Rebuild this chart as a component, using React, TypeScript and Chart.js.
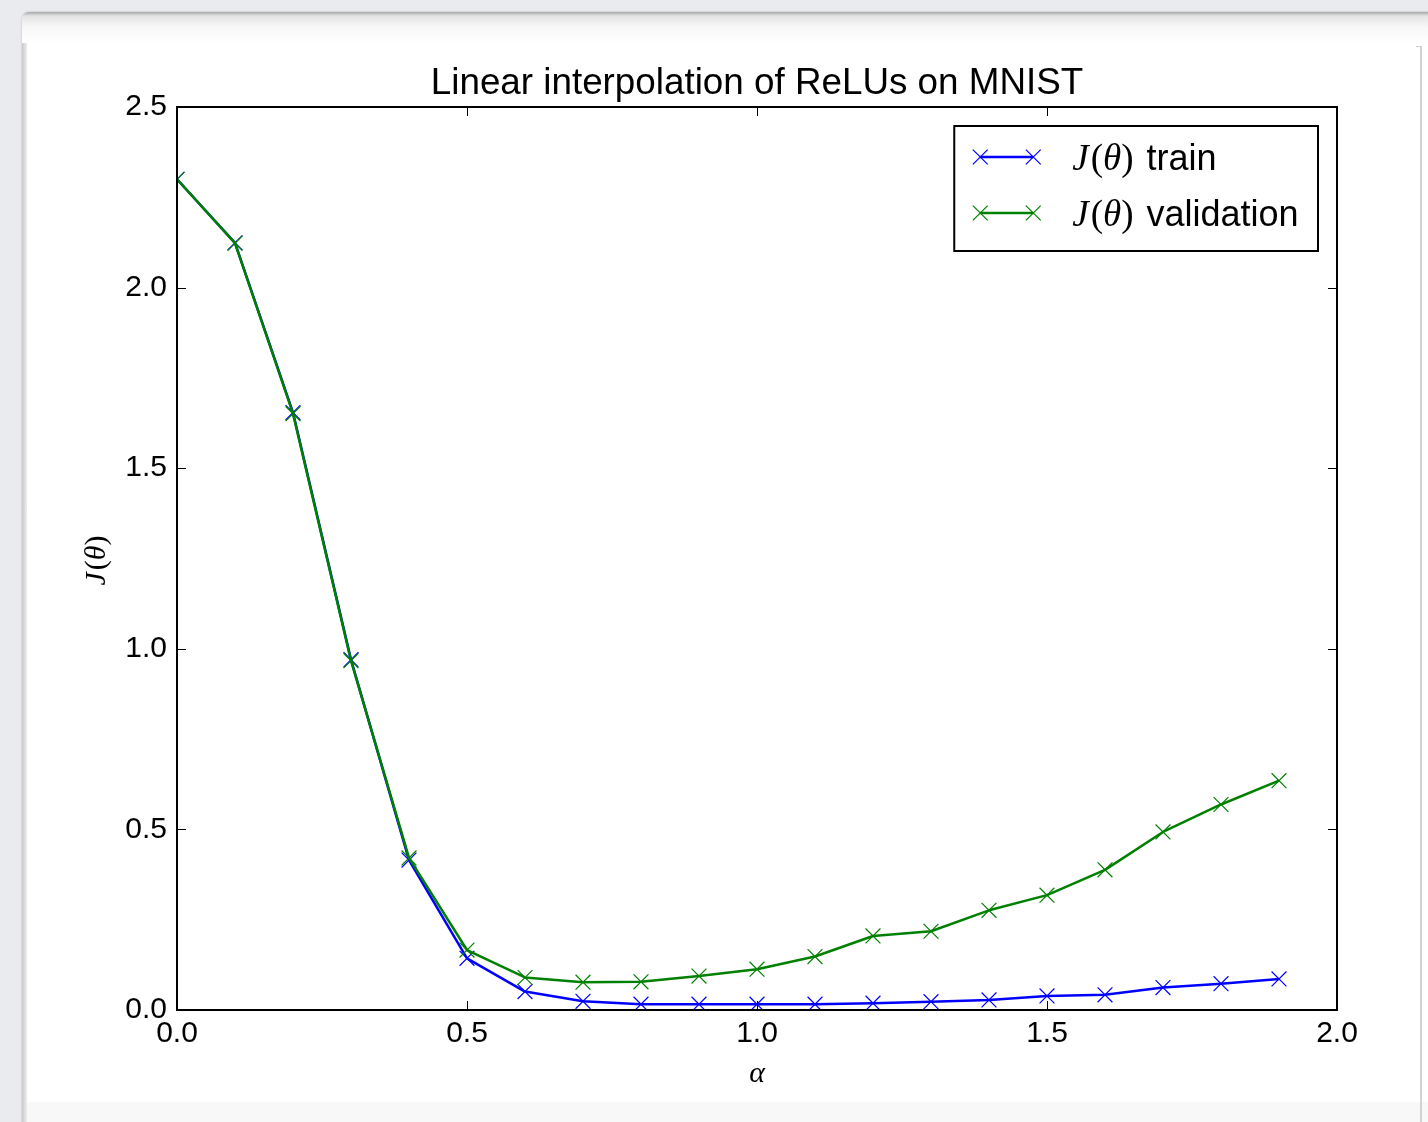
import React, { useEffect, useRef } from "react";
import { Chart, registerables } from "chart.js";

Chart.register(...registerables);

const alphaValues = [0.0, 0.1, 0.2, 0.3, 0.4, 0.5, 0.6, 0.7, 0.8, 0.9, 1.0, 1.1, 1.2, 1.3, 1.4, 1.5, 1.6, 1.7, 1.8, 1.9];
const trainLoss = [2.3, 2.124, 1.654, 0.97, 0.415, 0.143, 0.051, 0.024, 0.016, 0.016, 0.016, 0.016, 0.019, 0.023, 0.028, 0.039, 0.042, 0.062, 0.073, 0.086];
const validationLoss = [2.3, 2.123, 1.651, 0.967, 0.421, 0.166, 0.09, 0.077, 0.078, 0.094, 0.113, 0.148, 0.205, 0.218, 0.276, 0.318, 0.388, 0.493, 0.569, 0.635];
const xTickValues = [0, 0.5, 1.0, 1.5, 2.0];
const yTickValues = [0, 0.5, 1.0, 1.5, 2.0, 2.5];
const chartTitle = "Linear interpolation of ReLUs on MNIST";
const seriesLabels = ["train", "validation"];
const seriesColors = ["#0000ff", "#008000"];

const SANS = "'Liberation Sans', Arial, sans-serif";
const SERIF = "'Liberation Serif', 'Times New Roman', serif";
const MARKER_R = 10.5;
const MARKER_W = 1.2;

function mathParts(size: number): [string, string][] {
  return [
    ["J", `italic ${size}px ${SERIF}`],
    ["(", `${size}px ${SERIF}`],
    ["θ", `italic ${size}px ${SERIF}`],
    [")", `${size}px ${SERIF}`],
  ];
}

function drawMath(ctx: CanvasRenderingContext2D, x: number, y: number, size: number): number {
  let cx = x;
  for (const [t, f] of mathParts(size)) {
    ctx.font = f;
    ctx.fillText(t, cx, y);
    cx += ctx.measureText(t).width + (t === "J" ? 2 : 0);
  }
  return cx - x;
}

function mathWidth(ctx: CanvasRenderingContext2D, size: number): number {
  let w = 0;
  for (const [t, f] of mathParts(size)) {
    ctx.font = f;
    w += ctx.measureText(t).width + (t === "J" ? 2 : 0);
  }
  return w;
}

function drawCross(ctx: CanvasRenderingContext2D, x: number, y: number, color: string) {
  const h = MARKER_R * Math.SQRT1_2;
  ctx.strokeStyle = color;
  ctx.lineWidth = MARKER_W;
  ctx.beginPath();
  ctx.moveTo(x - h, y - h);
  ctx.lineTo(x + h, y + h);
  ctx.moveTo(x - h, y + h);
  ctx.lineTo(x + h, y - h);
  ctx.stroke();
}

const decorPlugin = {
  id: "decor",
  afterDatasetsDraw(chart: any) {
    const { ctx, chartArea } = chart;
    const { left, right, top, bottom } = chartArea;
    const xs = chart.scales.x;
    const ys = chart.scales.y;
    ctx.save();
    // inward ticks
    ctx.strokeStyle = "#000";
    ctx.lineWidth = 1;
    const TL = 9;
    ctx.beginPath();
    for (const v of xTickValues) {
      const px = Math.round(xs.getPixelForValue(v)) + 0.5;
      ctx.moveTo(px, bottom);
      ctx.lineTo(px, bottom - TL);
      ctx.moveTo(px, top);
      ctx.lineTo(px, top + TL);
    }
    for (const v of yTickValues) {
      const py = Math.round(ys.getPixelForValue(v)) + 0.5;
      ctx.moveTo(left, py);
      ctx.lineTo(left + TL, py);
      ctx.moveTo(right, py);
      ctx.lineTo(right - TL, py);
    }
    ctx.stroke();
    // frame
    ctx.lineWidth = 2;
    ctx.strokeStyle = "#000";
    ctx.strokeRect(left, top, right - left, bottom - top);

    // legend
    const LSIZE = 36;
    const mw = mathWidth(ctx, LSIZE);
    ctx.font = `${LSIZE}px ${SANS}`;
    const textW = Math.max(...seriesLabels.map((l) => mw + 14 + ctx.measureText(l).width));
    const boxW = 18 + 67 + 35 + textW + 18;
    const boxH = 125;
    const boxR = right - 19;
    const boxL = boxR - boxW;
    const boxT = top + 19;
    ctx.fillStyle = "#fff";
    ctx.fillRect(boxL, boxT, boxW, boxH);
    ctx.lineWidth = 2;
    ctx.strokeStyle = "#000";
    ctx.strokeRect(boxL, boxT, boxW, boxH);
    seriesLabels.forEach((label, i) => {
      const rowY = boxT + 31 + i * 56;
      const x0 = boxL + 26;
      const x1 = boxL + 79;
      ctx.strokeStyle = seriesColors[i];
      ctx.lineWidth = 2.5;
      ctx.beginPath();
      ctx.moveTo(x0, rowY);
      ctx.lineTo(x1, rowY);
      ctx.stroke();
      drawCross(ctx, x0, rowY, seriesColors[i]);
      drawCross(ctx, x1, rowY, seriesColors[i]);
      ctx.fillStyle = "#000";
      ctx.textAlign = "left";
      ctx.textBaseline = "alphabetic";
      const tx = boxL + 118;
      const w = drawMath(ctx, tx, rowY + 12.5, LSIZE + 1);
      ctx.font = `${LSIZE}px ${SANS}`;
      ctx.fillText(label, tx + w + 13, rowY + 12.5);
    });

    // title
    ctx.fillStyle = "#000";
    ctx.font = `36.8px ${SANS}`;
    ctx.textAlign = "center";
    ctx.textBaseline = "alphabetic";
    ctx.fillText(chartTitle, (left + right) / 2, top - 13);

    // x axis title
    ctx.font = `italic 30px ${SERIF}`;
    ctx.fillText("α", (left + right) / 2, bottom + 72);

    // y axis title
    ctx.save();
    ctx.translate(left - 72, (top + bottom) / 2 + 2);
    ctx.rotate(-Math.PI / 2);
    const yw = mathWidth(ctx, 30);
    ctx.textAlign = "left";
    drawMath(ctx, -yw / 2, 0, 30);
    ctx.restore();

    ctx.restore();
  },
};

export default function App() {
  const canvasRef = useRef<HTMLCanvasElement | null>(null);

  useEffect(() => {
    const canvas = canvasRef.current;
    if (!canvas) return;
    const makeDataset = (label: string, values: number[], color: string, order: number) => ({
      label,
      data: alphaValues.map((a, i) => ({ x: a, y: values[i] })),
      borderColor: color,
      backgroundColor: color,
      pointBorderColor: color,
      borderWidth: 2.5,
      pointStyle: "crossRot",
      pointRadius: MARKER_R,
      pointBorderWidth: MARKER_W,
      borderJoinStyle: "round",
      tension: 0,
      fill: false,
      order,
    });
    const chart = new Chart(canvas, {
      type: "line",
      data: {
        datasets: [
          makeDataset(seriesLabels[0], trainLoss, seriesColors[0], 1),
          makeDataset(seriesLabels[1], validationLoss, seriesColors[1], 0),
        ],
      },
      options: {
        animation: false,
        responsive: false,
        devicePixelRatio: 1,
        events: [],
        layout: { padding: { top: 107, right: 91, left: 0, bottom: 0 } },
        plugins: {
          legend: { display: false },
          title: { display: false },
          tooltip: { enabled: false },
        },
        scales: {
          x: {
            type: "linear",
            min: 0,
            max: 2,
            grid: { display: false, drawTicks: false },
            border: { display: false },
            afterBuildTicks: (s: any) => {
              s.ticks = xTickValues.map((v) => ({ value: v }));
            },
            afterFit: (s: any) => {
              s.height = 112;
            },
            ticks: {
              autoSkip: false,
              maxRotation: 0,
              padding: 6,
              color: "#000",
              font: { family: SANS, size: 30 },
              callback: (v: any) => Number(v).toFixed(1),
            },
          },
          y: {
            type: "linear",
            min: 0,
            max: 2.5,
            grid: { display: false, drawTicks: false },
            border: { display: false },
            afterBuildTicks: (s: any) => {
              s.ticks = yTickValues.map((v) => ({ value: v }));
            },
            afterFit: (s: any) => {
              s.width = 177;
            },
            ticks: {
              autoSkip: false,
              padding: 10,
              color: "#000",
              font: { family: SANS, size: 30 },
              callback: (v: any) => Number(v).toFixed(1),
            },
          },
        },
      },
      plugins: [decorPlugin],
    } as any);
    return () => chart.destroy();
  }, []);

  return (
    <div style={{ position: "fixed", inset: 0, background: "#e9ebef", overflow: "hidden" }}>
      <div
        style={{
          position: "absolute",
          left: 22,
          top: 12,
          width: 1440,
          height: 1200,
          borderRadius: "7px 0 0 0",
          background: "linear-gradient(#a8a8a8 0px, #e4e4e4 4px, #f6f6f6 14px, #ffffff 31px)",
          boxShadow: "0 0 2px rgba(0,0,0,0.25)",
        }}
      />
      <div
        style={{
          position: "absolute",
          left: 22,
          top: 43,
          width: 5,
          height: 1100,
          background: "linear-gradient(to right, #c9c9c9, #ededed)",
        }}
      />
      <div
        style={{
          position: "absolute",
          left: 27,
          top: 1102,
          right: 0,
          bottom: 0,
          background: "#f8f8f9",
        }}
      />
      <div
        style={{
          position: "absolute",
          left: 1420,
          top: 46,
          width: 2,
          bottom: 0,
          background: "#d2d2d2",
        }}
      />
      <div
        style={{
          position: "absolute",
          left: 1416,
          top: 46,
          width: 5,
          height: 1,
          background: "#d2d2d2",
        }}
      />
      <canvas
        ref={canvasRef}
        width={1428}
        height={1122}
        style={{ position: "absolute", left: 0, top: 0, width: 1428, height: 1122 }}
      />
    </div>
  );
}
